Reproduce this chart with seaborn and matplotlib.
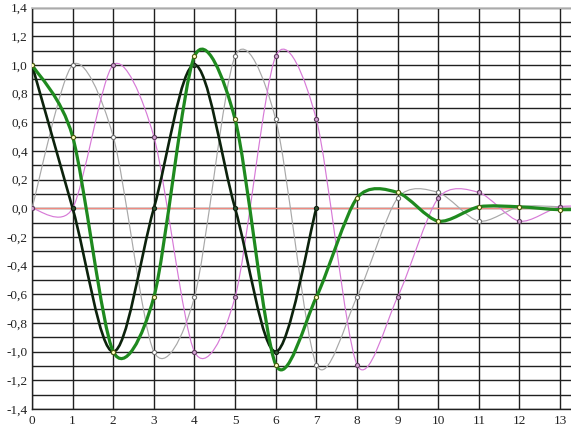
import numpy as np
import pandas as pd
import matplotlib
matplotlib.use("Agg")
import matplotlib.pyplot as plt
from matplotlib.path import Path
from matplotlib.patches import PathPatch
from matplotlib.ticker import FixedLocator, MultipleLocator
import seaborn as sns

# ---- data ----
x_black = [0, 1, 2, 3, 4, 5, 6, 7]
y_black = [1.0, 0.0, -1.0, 0.0, 1.0, 0.0, -1.0, 0.0]

x_long = [0, 1, 2, 3, 4, 5, 6, 7, 8, 9, 10, 11, 12, 13, 14]
y_green = [1.0, 0.5, -1.0, -0.62, 1.06, 0.62, -1.09, -0.62, 0.07, 0.11, -0.09, 0.01, 0.01, -0.01, 0.0]
y_gray = [0.0, 1.0, 0.5, -1.0, -0.62, 1.06, 0.62, -1.09, -0.62, 0.07, 0.11, -0.09, 0.01, 0.01, -0.01]
y_pink = [0.0, 0.0, 1.0, 0.5, -1.0, -0.62, 1.06, 0.62, -1.09, -0.62, 0.07, 0.11, -0.09, 0.01, 0.01]

x_ticks = list(range(0, 14))
y_ticks = [-1.4, -1.2, -1.0, -0.8, -0.6, -0.4, -0.2, 0.0, 0.2, 0.4, 0.6, 0.8, 1.0, 1.2, 1.4]

sns.set_theme(style="white")
plt.rcParams['font.family'] = ['Liberation Serif', 'DejaVu Serif']

fig = plt.figure(figsize=(5.71, 4.30), dpi=100)
ax = fig.add_axes([32 / 571, 21 / 430, 1 - 32 / 571, (409 - 7.5) / 430])


def smooth_path(xs, ys, f):
    """Smoothed line drawn as cubic Bezier segments through the data points."""
    P = np.column_stack([xs, ys]).astype(float)
    n = len(P)
    verts = [P[0]]
    codes = [Path.MOVETO]
    for i in range(n - 1):
        p0 = P[i - 1] if i > 0 else P[i]
        p1 = P[i]
        p2 = P[i + 1]
        p3 = P[i + 2] if i + 2 < n else P[i + 1]
        c1 = p1 + (p2 - p0) * f
        c2 = p2 - (p3 - p1) * f
        verts += [c1, c2, p2]
        codes += [Path.CURVE4] * 3
    return Path(verts, codes)


# grid
ax.set_xlim(0, 13.27)
ax.set_ylim(-1.4, 1.4)
ax.xaxis.set_major_locator(FixedLocator(x_ticks))
ax.yaxis.set_major_locator(FixedLocator(y_ticks))
ax.yaxis.set_minor_locator(MultipleLocator(0.1))
ax.grid(True, which='major', color='#202020', lw=1.0)
ax.grid(True, which='minor', axis='y', color='#202020', lw=1.0)
ax.set_axisbelow(True)

# zero line
sns.lineplot(x=[0, 14], y=[0, 0], color='#f08a80', lw=0.9, ax=ax, zorder=2)

series = [
    (x_long, y_gray, '#a8a8a8', 0.85, '#707070', 'white', 3, 0.14),
    (x_long, y_pink, '#d77ad7', 0.85, '#604060', '#d0a0d0', 3, 0.14),
    (x_black, y_black, '#0c220c', 1.9, '#102010', '#305030', 5, 1 / 6),
    (x_long, y_green, '#1f8a1f', 2.3, '#4a5a10', '#ffffc0', 6, 0.14),
]
for xs, ys, col, lw, mec, mfc, z, f in series:
    ax.add_patch(PathPatch(smooth_path(xs, ys, f), facecolor='none', edgecolor=col,
                           lw=lw, zorder=z, capstyle='round', joinstyle='round'))
    df = pd.DataFrame({'x': xs, 'y': ys})
    sns.scatterplot(data=df, x='x', y='y', ax=ax, s=9, color=mfc,
                    edgecolor=mec, linewidth=0.8, zorder=z + 0.5, legend=False)

ax.set_xlabel('')
ax.set_ylabel('')
ax.set_xticklabels([str(v) for v in x_ticks])
ax.set_yticklabels([f"{v:.1f}".replace('.', ',').replace('-0,0', '0,0') for v in y_ticks])
ax.tick_params(axis='both', which='both', length=0, labelsize=9.5, colors='#222222')
ax.tick_params(axis='y', pad=3)
ax.tick_params(axis='x', pad=4)

for s in ['left', 'bottom']:
    ax.spines[s].set_color('#202020')
    ax.spines[s].set_linewidth(1.0)
ax.spines['top'].set_color('#c0c0c0')
ax.spines['right'].set_visible(False)

fig.savefig('out.png', dpi=100)
